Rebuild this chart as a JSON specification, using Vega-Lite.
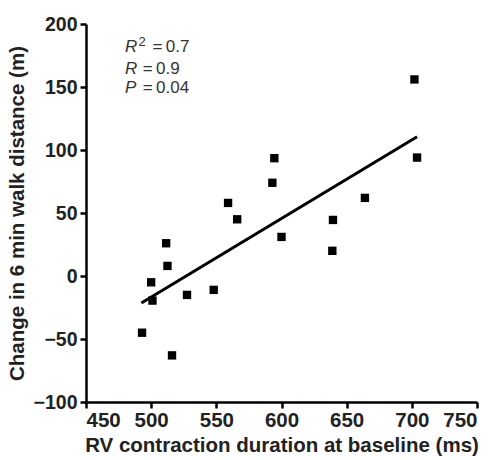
{
  "$schema": "https://vega.github.io/schema/vega-lite/v6.json",
  "width": 391,
  "height": 378,
  "autosize": {"type": "none"},
  "padding": {"left": 86, "top": 24, "right": 17, "bottom": 58},
  "background": "white",
  "config": {
    "view": {"stroke": null},
    "axis": {
      "grid": false,
      "domainColor": "black",
      "domainWidth": 2.5,
      "tickColor": "black",
      "tickWidth": 2.5,
      "tickSize": 6,
      "labelFont": "Liberation Sans",
      "labelFontWeight": "bold",
      "labelColor": "#222",
      "titleFont": "Liberation Sans",
      "titleFontWeight": "bold",
      "titleFontSize": 20.5,
      "titleColor": "#222"
    }
  },
  "datasets": {
    "points": [
      {"rv": 493, "walk": -45},
      {"rv": 500, "walk": -5},
      {"rv": 501, "walk": -19.5},
      {"rv": 511.5, "walk": 26},
      {"rv": 512.5, "walk": 8},
      {"rv": 516, "walk": -63},
      {"rv": 527.5, "walk": -15},
      {"rv": 548, "walk": -11},
      {"rv": 559, "walk": 58},
      {"rv": 566, "walk": 45},
      {"rv": 594.5, "walk": 93.5},
      {"rv": 593, "walk": 74},
      {"rv": 600, "walk": 31},
      {"rv": 639.5, "walk": 44.5},
      {"rv": 639, "walk": 20},
      {"rv": 664, "walk": 62},
      {"rv": 702, "walk": 156},
      {"rv": 704, "walk": 94}
    ],
    "fit": [
      {"rv": 492.5, "walk": -21.5},
      {"rv": 704, "walk": 110.5}
    ],
    "stats": [
      {"rv": 480, "rv2": 501, "walk": 182, "sym": "R", "rest": "=\u20090.7"},
      {"rv": 480, "rv2": 493.5, "walk": 164.5, "sym": "R", "rest": "=\u20090.9"},
      {"rv": 480, "rv2": 493.5, "walk": 149, "sym": "P", "rest": "=\u20090.04"}
    ],
    "sup": [
      {"rv": 490.3, "walk": 182, "s": "2"}
    ]
  },
  "layer": [
    {
      "data": {"name": "fit"},
      "mark": {"type": "line", "color": "black", "strokeWidth": 3},
      "encoding": {
        "x": {"field": "rv", "type": "quantitative", "scale": {"domain": [450, 750], "nice": false}, "axis": {"values": [450, 500, 550, 600, 650, 700, 750], "title": "RV contraction duration at baseline (ms)", "labelFontSize": 20.5, "labelPadding": 2, "titlePadding": 5}},
        "y": {"field": "walk", "type": "quantitative", "scale": {"domain": [-100, 200], "nice": false}, "axis": {"values": [-100, -50, 0, 50, 100, 150, 200], "title": "Change in 6 min walk distance (m)", "labelFontSize": 19.5, "labelPadding": 3, "titlePadding": 6}}
      }
    },
    {
      "data": {"name": "points"},
      "mark": {"type": "point", "shape": "square", "filled": true, "color": "black", "opacity": 1, "size": 70},
      "encoding": {
        "x": {"field": "rv", "type": "quantitative"},
        "y": {"field": "walk", "type": "quantitative"}
      }
    },
    {
      "data": {"name": "stats"},
      "mark": {"type": "text", "align": "left", "baseline": "middle", "font": "Liberation Sans", "fontSize": 17, "fontStyle": "italic", "color": "#333"},
      "encoding": {
        "x": {"field": "rv", "type": "quantitative"},
        "y": {"field": "walk", "type": "quantitative"},
        "text": {"field": "sym"}
      }
    },
    {
      "data": {"name": "sup"},
      "mark": {"type": "text", "align": "left", "baseline": "middle", "font": "Liberation Sans", "fontSize": 13, "dy": -5, "color": "#333"},
      "encoding": {
        "x": {"field": "rv", "type": "quantitative"},
        "y": {"field": "walk", "type": "quantitative"},
        "text": {"field": "s"}
      }
    },
    {
      "data": {"name": "stats"},
      "mark": {"type": "text", "align": "left", "baseline": "middle", "font": "Liberation Sans", "fontSize": 17, "color": "#333"},
      "encoding": {
        "x": {"field": "rv2", "type": "quantitative"},
        "y": {"field": "walk", "type": "quantitative"},
        "text": {"field": "rest"}
      }
    }
  ]
}
